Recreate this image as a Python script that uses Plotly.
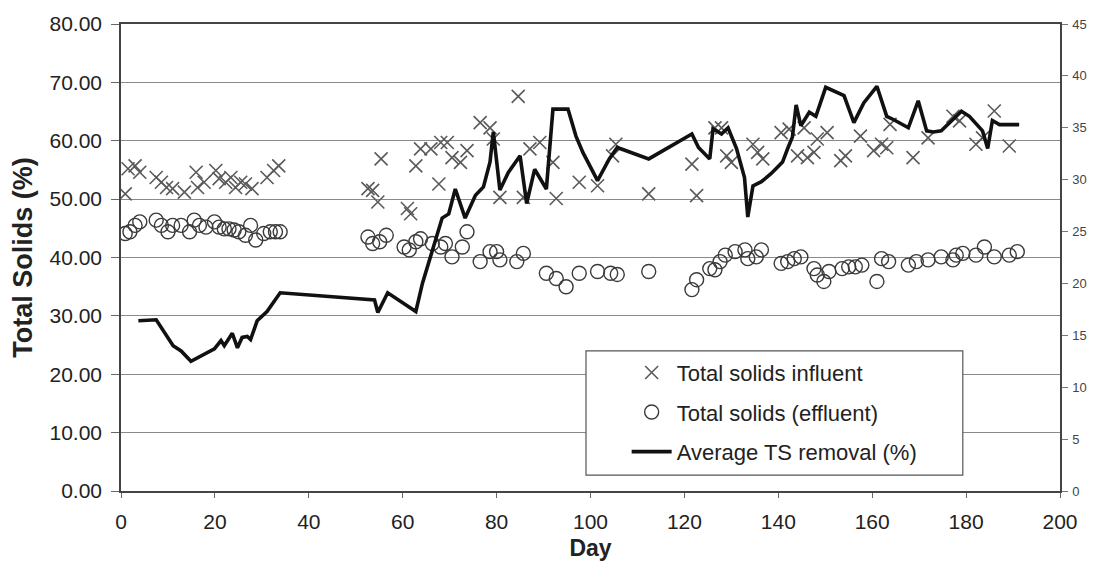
import plotly.graph_objects as go

# ---- data ----
inf_day = [0.9, 1.5, 3.0, 4.0, 7.5, 8.6, 9.7, 11.0, 13.5, 16.0, 16.3, 17.7, 20.2, 20.9, 22.3, 23.4,
           24.4, 25.5, 26.5, 27.9, 31.1, 32.5, 33.6,
           52.6, 53.6, 54.7, 55.4, 61.0, 61.7, 62.8, 63.8, 66.0, 67.7, 68.1, 69.5, 70.5, 72.3, 73.7,
           76.5, 78.6, 79.3, 80.7, 84.6, 85.7, 87.1, 89.2, 92.0, 92.7, 97.6, 101.5, 104.7, 105.4,
           112.4, 121.6, 122.6, 126.5, 127.9, 129.0, 130.0, 134.6, 135.6, 136.7, 140.6,
           142.3, 144.1, 145.5, 146.2, 147.6, 148.3, 150.4, 153.3, 154.3, 157.5, 160.3, 162.0, 163.1,
           163.8, 168.7, 171.9, 177.2, 178.6, 182.1, 183.5, 186.0, 189.2]
inf_ts = [50.9, 55.2, 55.7, 54.6, 53.7, 52.9, 52.0, 51.8, 51.2, 54.6, 52.0, 52.9, 54.9, 53.5, 52.9, 53.7,
          52.0, 52.9, 52.6, 51.8, 53.7, 54.9, 55.7,
          51.8, 51.5, 49.5, 56.9, 48.4, 47.5, 55.7, 58.6, 58.6, 52.6, 59.7, 59.7, 57.1, 56.3, 58.3,
          63.1, 62.2, 60.3, 50.3, 67.6, 50.3, 58.6, 59.7, 56.3, 50.1, 52.9, 52.3, 57.4, 59.4,
          50.9, 56.0, 50.6, 62.2, 62.2, 57.4, 56.3, 59.4, 58.0, 56.9, 61.4,
          62.0, 57.4, 62.2, 57.1, 58.0, 60.3, 61.4, 56.6, 57.4, 60.8, 58.3, 59.4, 58.8,
          62.8, 57.1, 60.5, 64.2, 63.4, 59.4, 60.5, 65.1, 59.1]

eff_day = [0.9, 1.9, 3.0, 4.0, 7.5, 8.6, 10.0, 11.0, 12.8, 14.6, 15.6, 16.7, 18.1, 19.9, 20.9, 22.0,
           23.0, 24.1, 25.1, 26.5, 27.6, 28.7, 30.4, 31.8, 32.9, 33.9,
           52.6, 53.6, 55.1, 56.5, 60.3, 61.4, 62.8, 63.8, 66.3, 68.1, 69.1, 70.5, 72.7, 73.7,
           76.5, 78.6, 80.0, 80.7, 84.3, 85.7, 90.6, 92.7, 94.8, 97.6, 101.5, 104.3, 105.7, 112.4,
           121.6, 122.6, 125.4, 126.5, 127.6, 128.7, 130.8, 132.9, 133.5, 135.3, 136.4, 140.6,
           142.0, 143.4, 144.8, 147.6, 148.3, 149.7, 150.8, 153.6, 155.0, 156.4, 157.8, 161.0,
           162.0, 163.5, 167.7, 169.4, 171.9, 174.7, 177.2, 177.9, 179.3, 182.1, 183.9, 186.0,
           189.2, 190.9]
eff_ts = [44.1, 44.4, 45.5, 46.1, 46.4, 45.5, 44.4, 45.5, 45.5, 44.4, 46.4, 45.5, 45.2, 46.1, 45.2, 44.9,
          44.9, 44.7, 44.4, 43.8, 45.5, 43.0, 44.1, 44.4, 44.4, 44.4,
          43.5, 42.4, 42.7, 43.8, 41.8, 41.3, 42.7, 43.2, 42.4, 41.8, 42.4, 40.1, 41.8, 44.4,
          39.3, 41.0, 41.0, 39.6, 39.3, 40.7, 37.3, 36.4, 35.0, 37.3, 37.6, 37.3, 37.1, 37.6,
          34.5, 36.2, 38.1, 37.9, 39.3, 40.4, 41.0, 41.3, 39.8, 40.1, 41.3, 39.0,
          39.3, 39.8, 40.1, 38.1, 37.0, 35.9, 37.6, 38.1, 38.4, 38.4, 38.7, 35.9,
          39.8, 39.3, 38.7, 39.3, 39.6, 40.1, 39.6, 40.4, 40.7, 40.4, 41.8, 40.1,
          40.4, 41.0]

rem_day = [3.7, 7.5, 11.1, 12.8, 14.9, 19.9, 21.3, 22.0, 23.7, 24.8, 25.8, 26.9, 27.6, 29.0, 31.1,
           32.9, 33.9, 54.0, 54.7, 56.8, 62.8, 64.2, 66.0, 68.4, 69.8, 71.2, 73.3, 75.5, 77.2,
           78.6, 79.3, 80.7, 82.5, 85.0, 86.4, 88.1, 90.6, 92.0, 95.2, 96.9, 98.4, 101.5, 104.0,
           105.7, 112.4, 121.6, 123.0, 125.4, 126.1, 127.9, 129.3, 131.1, 132.8, 133.5, 134.6,
           136.4, 138.5, 140.9, 142.0, 143.0, 143.8, 144.8, 146.6, 148.0, 150.1, 151.9, 154.0,
           156.1, 158.2, 161.0, 163.1, 164.5, 167.7, 169.8, 171.6, 173.0, 174.7, 179.0, 180.7,
           183.5, 184.6, 185.6, 187.1, 191.3]
rem_pct = [16.4, 16.5, 14.0, 13.5, 12.5, 13.7, 14.5, 14.0, 15.2, 13.8, 14.8, 14.9, 14.6, 16.4, 17.3,
           18.4, 19.1, 18.4, 17.2, 19.1, 17.3, 20.0, 22.8, 26.3, 26.7, 29.1, 26.3, 28.5, 29.3,
           31.7, 34.6, 29.0, 30.7, 32.3, 27.7, 31.0, 29.1, 36.8, 36.8, 34.2, 32.6, 29.9, 32.0,
           33.1, 32.0, 34.4, 33.1, 32.0, 34.9, 34.4, 35.0, 33.0, 30.2, 26.4, 29.4,
           29.8, 30.6, 31.7, 33.0, 34.1, 37.2, 35.2, 36.5, 36.1, 38.9, 38.5, 38.1,
           35.5, 37.4, 39.0, 36.1, 35.8, 35.0, 37.6, 34.7, 34.6, 34.7, 36.6, 36.1,
           34.7, 33.0, 35.7, 35.3, 35.3]

x_ticks = [0, 20, 40, 60, 80, 100, 120, 140, 160, 180, 200]
y_ticks = [0, 10, 20, 30, 40, 50, 60, 70, 80]
y2_ticks = [0, 5, 10, 15, 20, 25, 30, 35, 40, 45]

FONT = "Liberation Sans, Arial, Helvetica, sans-serif"

fig = go.Figure()
fig.add_trace(go.Scatter(
    x=inf_day, y=inf_ts, mode="markers", name="Total solids influent",
    legendgroup="a",
    marker=dict(symbol="x-thin-open", size=13, color="#5a5a5a",
                line=dict(width=1.6, color="#5a5a5a")),
))
fig.add_trace(go.Scatter(
    x=eff_day, y=eff_ts, mode="markers", name="Total solids (effluent)",
    legendgroup="b",
    marker=dict(symbol="circle-open", size=14, color="#3a3a3a",
                line=dict(width=1.4, color="#3a3a3a")),
))
fig.add_trace(go.Scatter(
    x=rem_day, y=rem_pct, mode="lines", name="Average TS removal (%)",
    legendgroup="c", yaxis="y2",
    line=dict(color="#111111", width=3.6),
))

# legend frame (white box behind the legend entries)
fig.add_shape(type="rect", xref="paper", yref="paper",
              x0=0.4952, x1=0.8965, y0=0.034, y1=0.300,
              line=dict(color="#555555", width=1.2), fillcolor="white", layer="above")

fig.update_layout(
    width=1099, height=577,
    margin=dict(l=121, r=31, t=21, b=86),
    paper_bgcolor="white", plot_bgcolor="white",
    font=dict(family=FONT, color="#222222", size=21),
    showlegend=True,
    legend=dict(
        x=0.5385, y=0.2984, xanchor="left", yanchor="top",
        bgcolor="rgba(0,0,0,0)", borderwidth=0,
        font=dict(size=22, family=FONT, color="#222222"),
        tracegroupgap=8, itemwidth=40,
    ),
    xaxis=dict(
        range=[0, 200], tickvals=x_ticks, ticktext=[str(v) for v in x_ticks],
        showgrid=False, zeroline=False,
        showline=True, linecolor="#444444", linewidth=1.5, mirror=True,
        ticks="outside", ticklen=5, tickcolor="#666666",
        tickfont=dict(size=21), ticklabelstandoff=6,
        title=dict(text="<b>Day</b>", font=dict(size=23), standoff=8),
    ),
    yaxis=dict(
        range=[0, 80], tickvals=y_ticks, ticktext=[f"{v:.2f}" for v in y_ticks],
        showgrid=True, gridcolor="#8a8a8a", gridwidth=1, zeroline=False,
        showline=True, linecolor="#444444", linewidth=1.5,
        ticks="outside", ticklen=8, tickcolor="#666666",
        tickfont=dict(size=21), ticklabelstandoff=5,
        title=dict(text="<b>Total Solids (%)</b>", font=dict(size=27), standoff=9),
    ),
    yaxis2=dict(
        range=[0, 45], tickvals=y2_ticks, ticktext=[str(v) for v in y2_ticks],
        overlaying="y", side="right", showgrid=False, zeroline=False,
        showline=True, linecolor="#444444", linewidth=1.5,
        ticks="outside", ticklen=6, tickcolor="#777777",
        tickfont=dict(size=13, color="#444444"), ticklabelstandoff=2,
    ),
)

fig.write_html("out.html")
